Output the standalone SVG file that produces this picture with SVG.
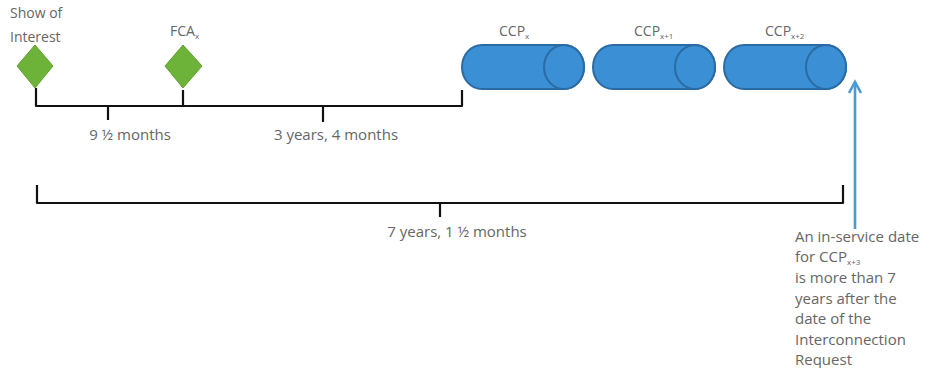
<svg xmlns="http://www.w3.org/2000/svg" width="925" height="368" viewBox="0 0 925 368">
<defs>
<style>
text{font-family:"Open Sans","Liberation Sans",sans-serif;fill:#666666;font-size:15px}
.lbl{text-anchor:middle}
.sm{font-size:14px}
.sub{font-size:8px}
.br{fill:none;stroke:#111;stroke-width:2.2;stroke-linejoin:round}
.dia{fill:#6db33a;stroke:#5fa12a;stroke-width:1}
.cyl{fill:#3b8fd4;stroke:#2a6ba3;stroke-width:2}
.arr{fill:none;stroke:#4a9ad8;stroke-width:2.6}
</style>
</defs>
<rect width="925" height="368" fill="#ffffff"/>
<g id="soi">
<polygon class="dia" points="35,45 53,66 35,88 17,66"/>
<text class="sm" x="10" y="18">Show of</text>
<text class="sm" x="10" y="42">Interest</text>
</g>
<g id="fca">
<polygon class="dia" points="183,45 202,66 183,88 165,66"/>
<text class="sm" x="170" y="36">FCA<tspan class="sub" dy="3">x</tspan></text>
</g>
<g id="ccp0">
<path class="cyl" d="M482,45 L564,45 A20,22 0 0 1 564,89 L482,89 A20,22 0 0 1 482,45 Z"/>
<ellipse class="cyl" cx="564" cy="67" rx="20" ry="22"/>
<text class="sm" x="499" y="36">CCP<tspan class="sub" dy="3">x</tspan></text>
</g>
<g id="ccp1">
<path class="cyl" d="M613,45 L695,45 A20,22 0 0 1 695,89 L613,89 A20,22 0 0 1 613,45 Z"/>
<ellipse class="cyl" cx="695" cy="67" rx="20" ry="22"/>
<text class="sm" x="634" y="36">CCP<tspan class="sub" dy="3">x+1</tspan></text>
</g>
<g id="ccp2">
<path class="cyl" d="M744,45 L826,45 A20,22 0 0 1 826,89 L744,89 A20,22 0 0 1 744,45 Z"/>
<ellipse class="cyl" cx="826" cy="67" rx="20" ry="22"/>
<text class="sm" x="765" y="36">CCP<tspan class="sub" dy="3">x+2</tspan></text>
</g>
<g id="connectors">
<path class="br" d="M36,88 L36,106 L183,106 L183,90"/>
<path class="br" d="M108,106 L108,120"/>
<path class="br" d="M183,106 L462,106 L462,90"/>
<path class="br" d="M323,106 L323,122"/>
<path class="br" d="M37,185 L37,203 L843,203 L843,185"/>
<path class="br" d="M440,203 L440,217"/>
<line class="arr" x1="855" y1="229" x2="855" y2="82"/>
<path class="arr" d="M849,93 L855,82 L861,93"/>
</g>
<g id="labels">
<text class="lbl" x="130" y="140">9 ½ months</text>
<text class="lbl" x="336" y="140">3 years, 4 months</text>
<text class="lbl" x="457" y="237">7 years, 1 ½ months</text>
</g>
<g id="note">
<text x="795" y="242">An in-service date</text>
<text x="795" y="262">for CCP<tspan class="sub" dy="3">x+3</tspan></text>
<text x="795" y="283">is more than 7</text>
<text x="795" y="304">years after the</text>
<text x="795" y="324">date of the</text>
<text x="795" y="345">Interconnection</text>
<text x="795" y="365">Request</text>
</g>
</svg>
